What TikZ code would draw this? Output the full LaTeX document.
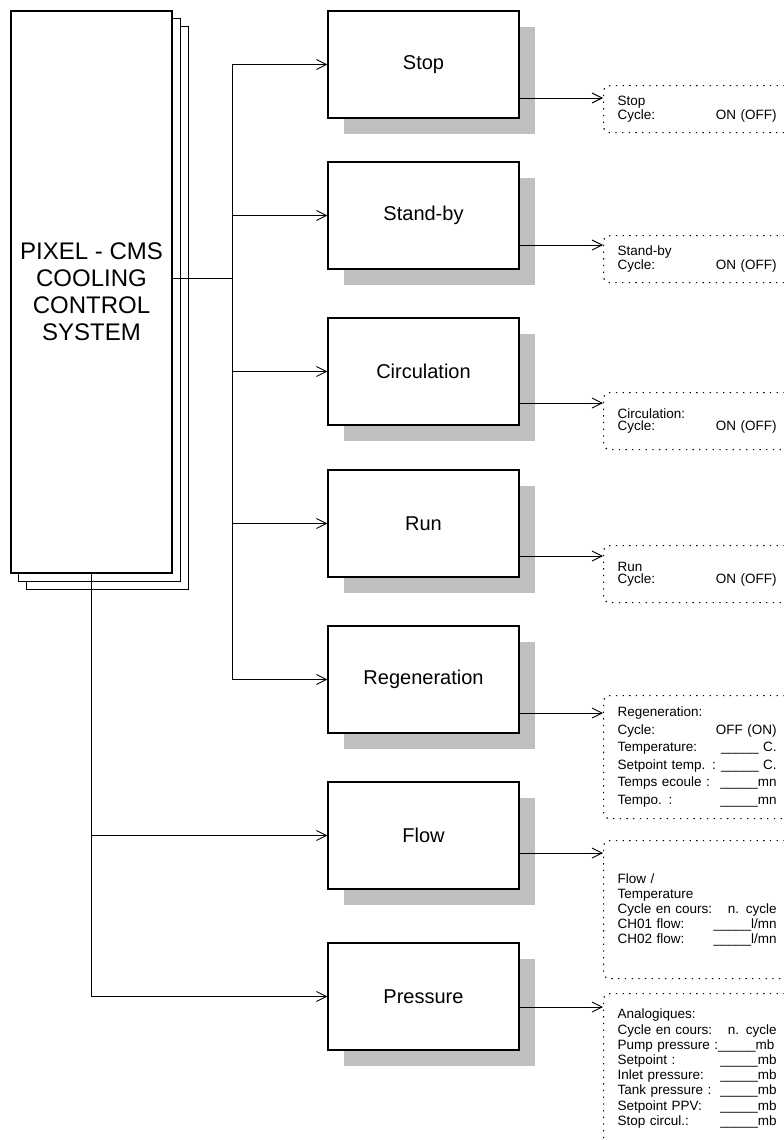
\documentclass[tikz,border=0pt]{standalone}
\usepackage{fontspec}
\setmainfont{Liberation Sans}
\usetikzlibrary{positioning, arrows.meta, backgrounds, shadows}

\begin{document}
\begin{tikzpicture}[x=1pt, y=1pt,
    stack/.style={draw, line width=1.1pt, fill=white},
    modebox/.style={stack, minimum width=191pt, minimum height=107pt, inner sep=0pt,
      font=\fontsize{20}{24}\selectfont,
      drop shadow={shadow xshift=16pt, shadow yshift=-16pt, fill=black!25, opacity=1}},
    infobox/.style={draw, line width=1.2pt, dash pattern=on 1.3pt off 5.4pt, rounded corners=6pt,
      anchor=north west, text width=159pt, inner xsep=14pt, inner ysep=0pt, align=left,
      font=\fontsize{13.5}{#1}\selectfont},
    link/.style={line width=0.9pt},
    feed/.style={link, -{Straight Barb[length=10pt, width=10pt]}}]
  \useasboundingbox (0,0) rectangle (784,-1140);
  \clip (0,0) rectangle (784,-1140);

  % main block
  \node[stack, minimum width=161pt, minimum height=562pt, align=center,
    font=\fontsize{24}{27}\selectfont] (ccs) at (91.5,-292)
    {PIXEL - CMS\\COOLING\\CONTROL\\SYSTEM};
  \begin{scope}[on background layer]
    \foreach \s in {16,8}
      \draw[stack] ([shift={(\s,-\s)}]ccs.north west) rectangle ([shift={(\s,-\s)}]ccs.south east);
  \end{scope}

  % modes
  \node[modebox] (stop) at (423.5,-64.5) {Stop};
  \node[modebox] (standby) at (423.5,-215.5) {Stand-by};
  \node[modebox] (circ) at (423.5,-371.5) {Circulation};
  \node[modebox] (run) at (423.5,-523.5) {Run};
  \node[modebox] (regen) at (423.5,-679.5) {Regeneration};
  \node[modebox] (flow) at (423.5,-835.5) {Flow};
  \node[modebox] (press) at (423.5,-996.5) {Pressure};

  % displays
  \node[infobox=11.5, minimum height=47pt] (stopinfo) at (603,-85)
    {Stop\\Cycle:\hfill ON (OFF)};
  \node[infobox=11.5, minimum height=47pt] (standbyinfo) at (603,-235)
    {Stand-by\\Cycle:\hfill ON (OFF)};
  \node[infobox=11.5, minimum height=57pt] (circinfo) at (603,-392)
    {Circulation:\\Cycle:\hfill ON (OFF)};
  \node[infobox=11.5, minimum height=57pt] (runinfo) at (603,-545)
    {Run\\Cycle:\hfill ON (OFF)};
  \node[infobox=17.5, minimum height=123pt] (regeninfo) at (603,-695)
    {Regeneration:\\
     Cycle:\hfill OFF (ON)\\
     Temperature:\hfill \_\_\_\_\_ C.\\
     Setpoint temp. :\hfill \_\_\_\_\_ C.\\
     Temps ecoule :\hfill \_\_\_\_\_mn\\
     Tempo. :\hfill \_\_\_\_\_mn};
  \node[infobox=15, minimum height=138pt] (flowinfo) at (603,-840)
    {Flow /\\
     Temperature\\
     Cycle en cours:\hfill n. cycle\\
     CH01 flow:\hfill \_\_\_\_\_l/mn\\
     CH02 flow:\hfill \_\_\_\_\_l/mn};
  \node[infobox=15.2, minimum height=150pt] (pressinfo) at (603,-993)
    {Analogiques:\\
     Cycle en cours:\hfill n. cycle\\
     Pump pressure :\_\_\_\_\_mb\\
     Setpoint :\hfill \_\_\_\_\_mb\\
     Inlet pressure:\hfill \_\_\_\_\_mb\\
     Tank pressure :\hfill \_\_\_\_\_mb\\
     Setpoint PPV:\hfill \_\_\_\_\_mb\\
     Stop circul.:\hfill \_\_\_\_\_mb};

  % bus to the modes
  \coordinate (bus) at (232,-278);
  \draw[link] (ccs.east |- bus) -- (bus);
  \draw[link] (bus |- stop.west) -- (bus |- regen.west);
  \foreach \m in {stop,standby,circ,run,regen}
    \draw[feed] (bus |- \m.west) -- (\m.west);
  \draw[feed] (ccs.south) |- (flow.west);
  \draw[feed] (ccs.south) |- (press.west);

  % mode to display
  \coordinate (stopin) at (603,-98);
  \coordinate (standbyin) at (603,-245);
  \coordinate (circin) at (603,-403);
  \coordinate (runin) at (603,-556);
  \coordinate (regenin) at (603,-713);
  \coordinate (flowin) at (603,-853);
  \coordinate (pressin) at (603,-1007);
  \foreach \m in {stop,standby,circ,run,regen,flow,press}
    \draw[feed] (\m.east |- \m in) -- (\m in);
\end{tikzpicture}
\end{document}
